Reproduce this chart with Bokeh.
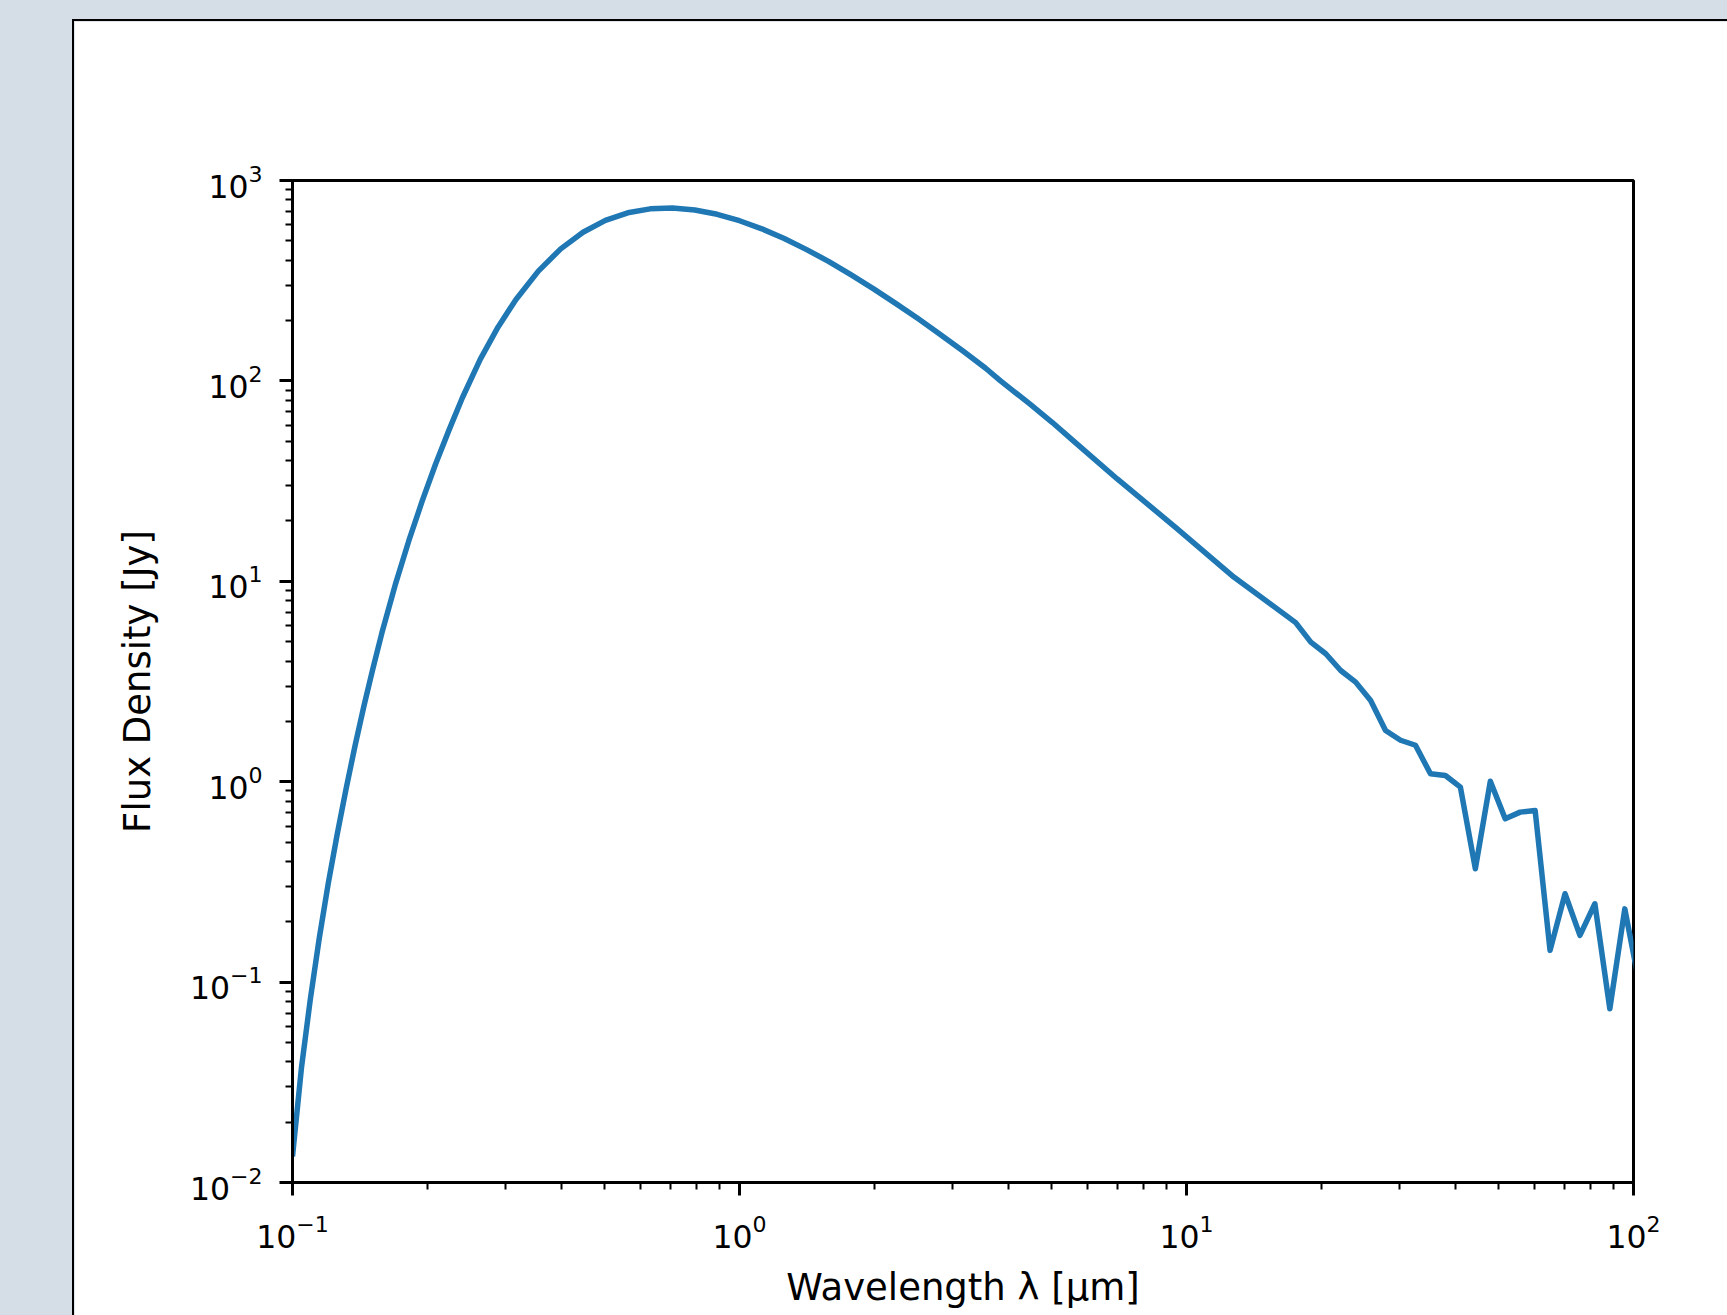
from bokeh.plotting import figure
from bokeh.models import Range1d, FixedTicker, ColumnDataSource
from bokeh.embed import file_html
from bokeh.resources import INLINE

# ---- data ----
wavelength_um = [0.1000, 0.1047, 0.1096, 0.1148, 0.1202, 0.1259, 0.1318, 0.1380, 0.1445, 0.1514,
                 0.1585, 0.1698, 0.1820, 0.1950, 0.2089, 0.2239, 0.2399, 0.2630, 0.2884, 0.3162,
                 0.3548, 0.3981, 0.4467, 0.5012, 0.5623, 0.6310, 0.7079, 0.7943, 0.8913, 1.000,
                 1.122, 1.259, 1.413, 1.585, 1.778, 1.995, 2.239, 2.512, 2.818, 3.162,
                 3.548, 3.837, 4.467, 5.012, 5.551, 7.00, 9.45, 12.76, 17.55, 18.97,
                 20.49, 22.13, 23.90, 25.82, 27.88, 30.12, 32.53, 35.14, 37.95, 41.00,
                 44.28, 47.83, 51.64, 55.78, 60.25, 65.06, 70.28, 75.89, 81.95, 88.52,
                 95.61, 103.3]
flux_jy = [0.0135, 0.0372, 0.0819, 0.166, 0.310, 0.546, 0.922, 1.51, 2.39, 3.69,
           5.53, 9.62, 15.9, 25.1, 38.4, 56.8, 82.4, 128, 186, 255,
           353, 456, 552, 632, 690, 722, 729, 713, 678, 630,
           574, 513, 452, 394, 338, 288, 243, 204, 170, 141,
           116, 100, 76.5, 62.0, 50.8, 32.4, 18.6, 10.5, 6.22, 4.97,
           4.35, 3.59, 3.14, 2.54, 1.80, 1.61, 1.52, 1.095, 1.074, 0.939,
           0.368, 1.006, 0.653, 0.705, 0.718, 0.144, 0.276, 0.171, 0.246, 0.0736,
           0.232, 0.095]

x_major_ticks = [0.1, 1, 10, 100]
y_major_ticks = [0.01, 0.1, 1, 10, 100, 1000]
x_label = "Wavelength \u03bb [\u03bcm]"
y_label = "Flux Density [Jy]"

x_minor_ticks = [m * t for t in x_major_ticks[:-1] for m in range(2, 10)]
y_minor_ticks = [m * t for t in y_major_ticks[:-1] for m in range(2, 10)]

FONT = "DejaVu Sans"
PAGE_BG = "#d5dde6"

source = ColumnDataSource(data=dict(wavelength=wavelength_um, flux=flux_jy))

p = figure(width=1653, height=1294,
           x_axis_type="log", y_axis_type="log",
           x_range=Range1d(x_major_ticks[0], x_major_ticks[-1]),
           y_range=Range1d(y_major_ticks[0], y_major_ticks[-1]),
           output_backend="svg", toolbar_location=None,
           min_border_left=218, min_border_right=94,
           min_border_top=159, min_border_bottom=133)

# the figure itself is the white panel, offset on a grey page, with a black edge
p.margin = (21, 0, 0, 74)
p.styles = {"outline": "2px solid black"}

p.border_fill_color = "white"
p.background_fill_color = "white"
p.outline_line_color = "black"
p.outline_line_width = 3
p.xgrid.visible = False
p.ygrid.visible = False

p.line(x="wavelength", y="flux", source=source, line_color="#1f77b4",
       line_width=5.5, line_join="round")

p.xaxis.ticker = FixedTicker(ticks=x_major_ticks, minor_ticks=x_minor_ticks)
p.yaxis.ticker = FixedTicker(ticks=y_major_ticks, minor_ticks=y_minor_ticks)

for ax in (p.xaxis[0], p.yaxis[0]):
    ax.axis_line_color = "black"
    ax.axis_line_width = 3
    ax.major_tick_line_color = "black"
    ax.major_tick_line_width = 3
    ax.major_tick_in = 0
    ax.major_tick_out = 13
    ax.minor_tick_line_color = "black"
    ax.minor_tick_line_width = 2
    ax.minor_tick_in = 0
    ax.minor_tick_out = 7
    ax.major_label_text_font = FONT
    ax.major_label_text_font_size = "31.5px"
    ax.major_label_text_color = "black"
    ax.axis_label_text_font = FONT
    ax.axis_label_text_font_size = "37px"
    ax.axis_label_text_font_style = "normal"
    ax.axis_label_text_color = "black"

p.xaxis.major_label_standoff = 18
p.yaxis.major_label_standoff = 17

p.xaxis.axis_label = x_label
p.xaxis.axis_label_standoff = 15
p.yaxis.axis_label = y_label
p.yaxis.axis_label_standoff = 28

try:
    from bokeh.models import GlobalInlineStyleSheet
    p.stylesheets = [GlobalInlineStyleSheet(css="html, body { background-color: %s; }" % PAGE_BG)]
except Exception:
    pass

open("out.html", "w").write(file_html(p, INLINE))
